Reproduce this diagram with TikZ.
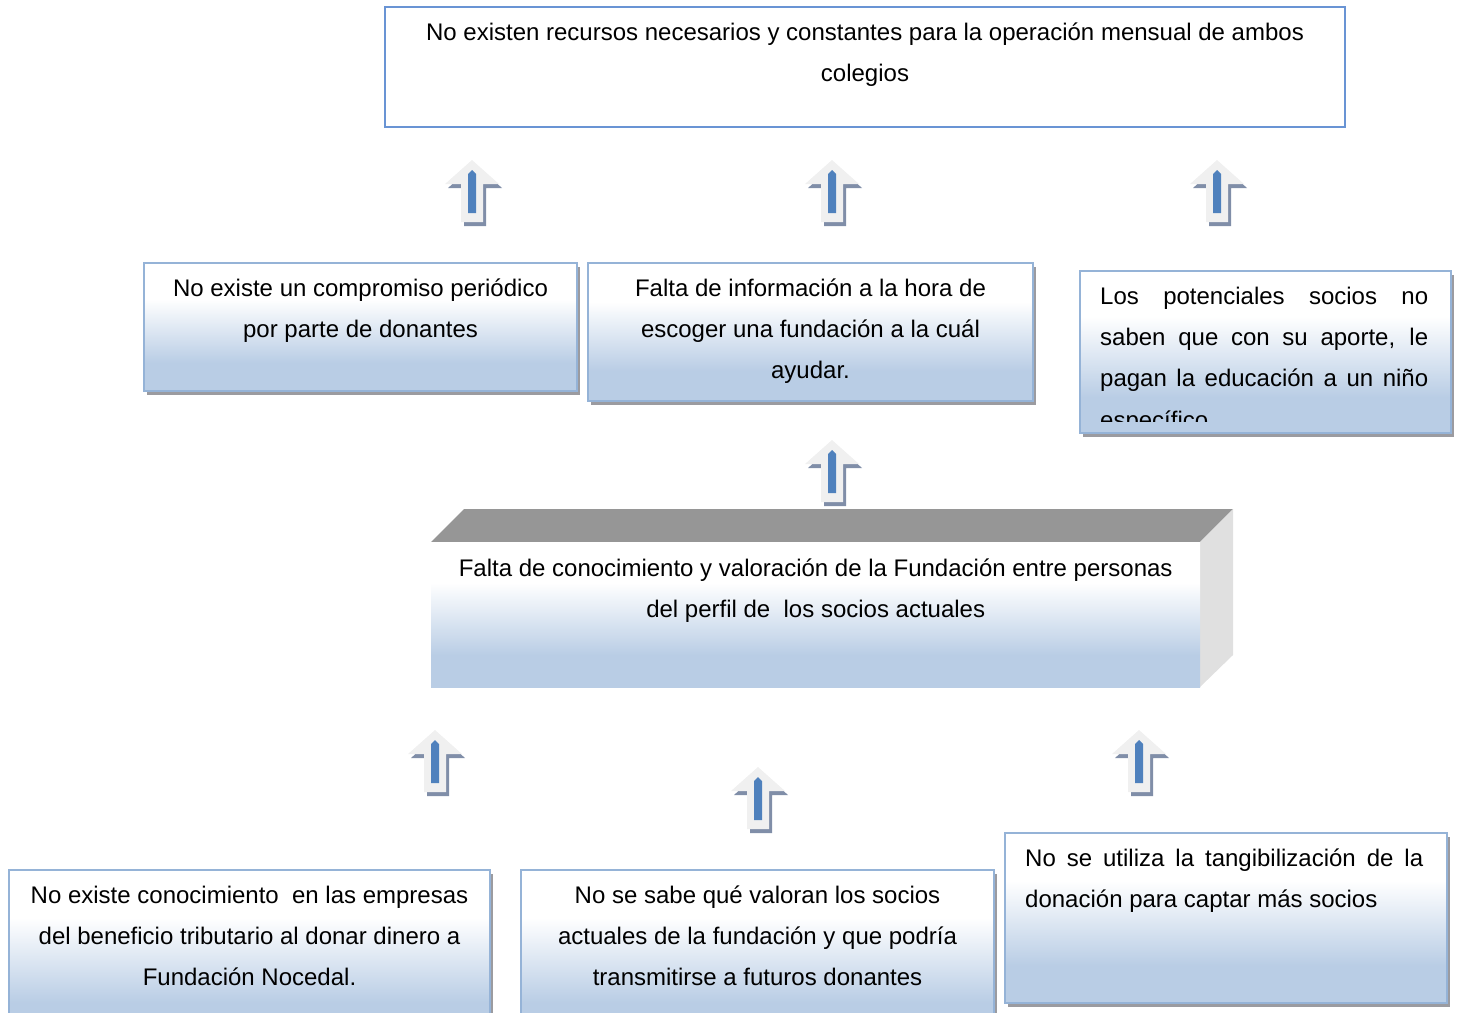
\documentclass[tikz,border=0pt]{standalone}
\usepackage{fontspec}
\setmainfont{Liberation Sans}
\usetikzlibrary{calc,shadows}
\definecolor{bord}{RGB}{149,179,215}
\definecolor{topbord}{RGB}{105,148,212}
\definecolor{gradb}{RGB}{185,205,229}
\definecolor{shad}{RGB}{155,155,160}
\definecolor{arrfill}{RGB}{240,240,240}
\definecolor{arrshad}{RGB}{128,142,168}
\definecolor{arrbar}{RGB}{79,129,189}
\definecolor{topface}{RGB}{150,150,150}
\definecolor{sideface}{RGB}{224,224,224}
\pgfdeclareverticalshading{boxgrad}{100bp}{color(0bp)=(gradb); color(25bp)=(gradb); color(36bp)=(gradb); color(61bp)=(white); color(75bp)=(white); color(100bp)=(white)}
\tikzset{
  gbox/.style={draw=bord, line width=2pt, shading=boxgrad,
    anchor=north west, inner sep=0,
    drop shadow={shadow xshift=3pt, shadow yshift=-4pt, fill=shad, opacity=1}},
  txt/.style={font=\fontsize{24}{41.4}\selectfont, align=center, inner sep=0, anchor=north, text=black},
  jtxt/.style={font=\fontsize{24}{41.4}\selectfont, align=left, inner sep=0, anchor=north west, text=black},
  upar/.pic={
    \begin{scope}[shift={(3,4)}]
      \fill[arrshad] (0,0)--(27,24)--(11,24)--(11,62)--(-11,62)--(-11,24)--(-27,24)--cycle;
    \end{scope}
    \fill[arrfill] (0,0)--(27,24)--(11,24)--(11,62)--(-11,62)--(-11,24)--(-27,24)--cycle;
    \fill[arrbar] (-4,14)--(0,10)--(4,14)--(4,53)--(-4,53)--cycle;
  }
}
\begin{document}
\begin{tikzpicture}[x=1pt,y=-1pt]
\useasboundingbox (0,0) rectangle (1458,1012);
\clip (0,0) rectangle (1458,1012);

% top box
\node[draw=topbord, line width=2pt, fill=white, anchor=north west, inner sep=0,
  minimum width=960pt, minimum height=120pt] (top) at (384,6) {};
\node[txt] (toptxt) at ($(top.north)+(0,5)$) {\strut No existen recursos necesarios y constantes para la operación mensual de ambos\\colegios};

% arrows to top
\pic at (472,160) {upar};
\pic at (832,160) {upar};
\pic at (1217,160) {upar};

% middle row
\node[gbox, minimum width=433pt, minimum height=128pt] (a) at (143,262) {};
\node[txt] (atxt) at ($(a.north)+(0,5)$) {\strut No existe un compromiso periódico\\por parte de donantes};

\node[gbox, minimum width=445pt, minimum height=138pt] (b) at (587,262) {};
\node[txt] (btxt) at ($(b.north)+(0,5)$) {\strut Falta de información a la hora de\\escoger una fundación a la cuál\\ayudar.};

\node[gbox, minimum width=371pt, minimum height=162pt] (c) at (1079,270) {};
\begin{scope}
  \clip (1079,270) rectangle (1450,421);
  \node[jtxt] (ctxt) at ($(c.north west)+(21,5)$) {\strut\makebox[328pt][s]{Los potenciales socios no}\\\makebox[328pt][s]{saben que con su aporte, le}\\\makebox[328pt][s]{pagan la educación a un niño}\\específico};
\end{scope}

% arrow to middle
\pic at (832,440) {upar};

% core 3D box
\fill[topface] (431,542) -- (464,509) -- (1233,509) -- (1200,542) -- cycle;
\fill[sideface] (1200,542) -- (1233,509) -- (1233,655) -- (1200,687) -- cycle;
\node[anchor=north west, inner sep=0, minimum width=769pt, minimum height=145pt,
  shading=boxgrad] (core) at (431,542) {};
\node[txt] (coretxt) at ($(core.north)+(0,5)$) {\strut Falta de conocimiento y valoración de la Fundación entre personas\\del perfil de~ los socios actuales};

% arrows from bottom
\pic at (435,730) {upar};
\pic at (758,767) {upar};
\pic at (1139,730) {upar};

% bottom row
\node[gbox, minimum width=481pt, minimum height=170pt] (d) at (8,869) {};
\node[txt] (dtxt) at ($(d.north)+(0,5)$) {\strut No existe conocimiento~ en las empresas\\del beneficio tributario al donar dinero a\\Fundación Nocedal.};

\node[gbox, minimum width=473pt, minimum height=170pt] (e) at (520,869) {};
\node[txt] (etxt) at ($(e.north)+(0,5)$) {\strut No se sabe qué valoran los socios\\actuales de la fundación y que podría\\transmitirse a futuros donantes};

\node[gbox, minimum width=442pt, minimum height=170pt] (f) at (1004,832) {};
\node[jtxt] (ftxt) at ($(f.north west)+(21,5)$) {\strut\makebox[398pt][s]{No se utiliza la tangibilización de la}\\donación para captar más socios};
\end{tikzpicture}
\end{document}
